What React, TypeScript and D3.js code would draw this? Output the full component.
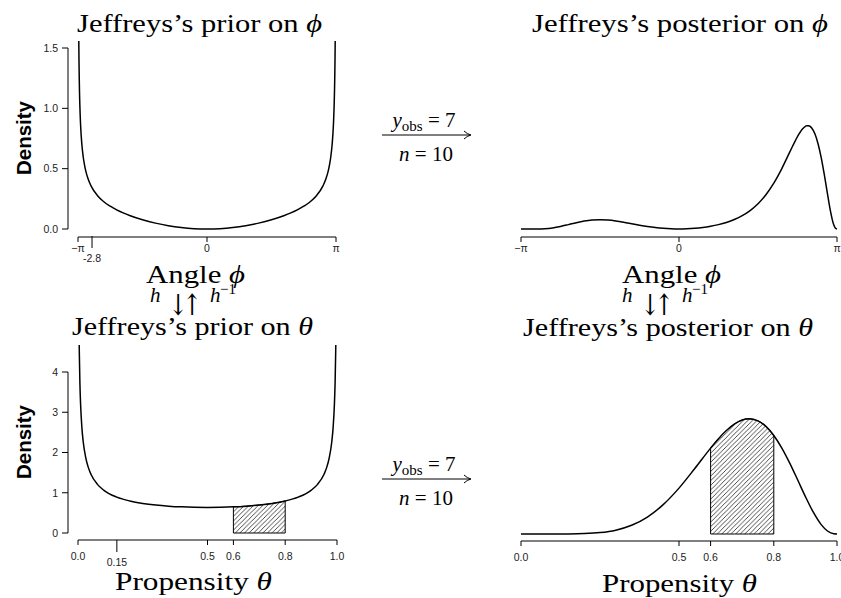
import React from 'react';
import * as d3 from 'd3';

// ---------- data ----------
// Jeffreys's prior on phi; x in units of pi
const phiPriorX = [-0.998, -0.995, -0.99, -0.985, -0.98, -0.97, -0.96, -0.95, -0.94, -0.92, -0.9, -0.85, -0.8, -0.75, -0.7, -0.65, -0.6, -0.5, -0.4, -0.3, -0.2, -0.1, 0, 0.1, 0.2, 0.3, 0.4, 0.5, 0.6, 0.65, 0.7, 0.75, 0.8, 0.85, 0.9, 0.92, 0.94, 0.95, 0.96, 0.97, 0.98, 0.985, 0.99, 0.995, 0.998];
const phiPriorY = [2.771, 1.748, 1.232, 1.002, 0.864, 0.700, 0.601, 0.533, 0.482, 0.410, 0.360, 0.278, 0.226, 0.189, 0.159, 0.134, 0.112, 0.0766, 0.0487, 0.0274, 0.0122, 0.0030, 0, 0.0030, 0.0122, 0.0274, 0.0487, 0.0766, 0.112, 0.134, 0.159, 0.189, 0.226, 0.278, 0.360, 0.410, 0.482, 0.533, 0.601, 0.700, 0.864, 1.002, 1.232, 1.748, 2.771];

// Jeffreys's posterior on phi; x in units of pi
const phiPostX = [-1, -0.95, -0.9, -0.85, -0.8, -0.75, -0.7, -0.65, -0.6, -0.55, -0.5, -0.45, -0.4, -0.35, -0.3, -0.25, -0.2, -0.15, -0.1, -0.05, 0, 0.05, 0.1, 0.15, 0.2, 0.25, 0.3, 0.35, 0.4, 0.45, 0.5, 0.55, 0.6, 0.65, 0.7, 0.75, 0.78, 0.8, 0.81, 0.82, 0.83, 0.84, 0.86, 0.88, 0.9, 0.92, 0.94, 0.95, 0.96, 0.97, 0.98, 0.99, 1];
const phiPostY = [0, 0.0000, 0.0004, 0.0027, 0.0092, 0.0210, 0.0363, 0.0523, 0.0657, 0.0741, 0.0767, 0.0736, 0.0661, 0.0557, 0.0438, 0.0319, 0.0211, 0.0121, 0.0054, 0.0014, 0, 0.0014, 0.0055, 0.0124, 0.0225, 0.0362, 0.0544, 0.0785, 0.1105, 0.1530, 0.2095, 0.2840, 0.3801, 0.4989, 0.6345, 0.7664, 0.8269, 0.8512, 0.8565, 0.8565, 0.8504, 0.8373, 0.7888, 0.7070, 0.5917, 0.4481, 0.2891, 0.2111, 0.1392, 0.0781, 0.0327, 0.0067, 0];

// Jeffreys's prior on theta
const thetaPriorX = [0.001, 0.002, 0.0035, 0.005, 0.0075, 0.01, 0.015, 0.02, 0.03, 0.04, 0.05, 0.075, 0.1, 0.15, 0.2, 0.25, 0.3, 0.35, 0.4, 0.45, 0.5, 0.55, 0.6, 0.65, 0.7, 0.75, 0.8, 0.85, 0.9, 0.925, 0.95, 0.96, 0.97, 0.98, 0.985, 0.99, 0.9925, 0.995, 0.9965, 0.998, 0.999];
const thetaPriorY = [10.07, 7.125, 5.39, 4.513, 3.689, 3.199, 2.619, 2.274, 1.866, 1.624, 1.461, 1.2085, 1.061, 0.8914, 0.7958, 0.7351, 0.6946, 0.6674, 0.6497, 0.6398, 0.6366, 0.6398, 0.6497, 0.6674, 0.6946, 0.7351, 0.7958, 0.8914, 1.061, 1.2085, 1.461, 1.624, 1.866, 2.274, 2.619, 3.199, 3.689, 4.513, 5.39, 7.125, 10.07];

// Jeffreys's posterior on theta
const thetaPostX = [0, 0.05, 0.1, 0.15, 0.2, 0.25, 0.3, 0.35, 0.4, 0.45, 0.5, 0.55, 0.6, 0.625, 0.65, 0.675, 0.7, 0.72, 0.75, 0.775, 0.8, 0.825, 0.85, 0.875, 0.9, 0.925, 0.95, 0.97, 0.99, 1];
const thetaPostY = [0, 0, 0.0001, 0.0017, 0.0096, 0.0347, 0.0955, 0.2162, 0.4215, 0.7293, 1.1397, 1.6270, 2.1341, 2.3681, 2.5713, 2.7307, 2.8316, 2.8611, 2.8101, 2.6727, 2.4476, 2.1408, 1.7681, 1.3533, 0.9303, 0.5415, 0.2337, 0.0746, 0.0055, 0];

// axes / labels
const phiTicks = [-1, 0, 1];
const phiTickLabels = ['−π', '0', 'π'];
const phiMark = -2.8;
const phiMarkLabel = '-2.8';
const phiDensityTicks = [0, 0.5, 1, 1.5];
const thetaTicks = [0, 0.5, 0.6, 0.8, 1];
const thetaMark = 0.15;
const thetaDensityTicks = [0, 1, 2, 3, 4];
const hatchRange = [0.6, 0.8];
const yObs = 7;
const nObs = 10;

const SERIF = "'Liberation Serif', 'DejaVu Serif', 'Times New Roman', serif";
const SANS = "'Liberation Sans', Arial, Helvetica, sans-serif";
const PHI = 'ϕ';
const THETA = 'θ';

const zip = (a: number[], b: number[]) => a.map((v, i) => [v, b[i]] as [number, number]);

export default function App() {
  const xTL = d3.scaleLinear().domain([-1, 1]).range([78, 336]);
  const xTR = d3.scaleLinear().domain([-1, 1]).range([521, 837]);
  const yTop = d3.scaleLinear().domain([0, 1.5]).range([229, 48]);
  const xBL = d3.scaleLinear().domain([0, 1]).range([78, 337]);
  const xBR = d3.scaleLinear().domain([0, 1]).range([521, 837]);
  const yBL = d3.scaleLinear().domain([0, 4]).range([533, 372]);
  const yBR = d3.scaleLinear().domain([0, 4]).range([534, 373]);

  const mkLine = (x: any, y: any) =>
    d3.line<[number, number]>().x(d => x(d[0])).y(d => y(d[1])).curve(d3.curveMonotoneX);
  const mkArea = (x: any, y: any) =>
    d3.area<[number, number]>().x(d => x(d[0])).y0(y(0)).y1(d => y(d[1])).curve(d3.curveMonotoneX);

  const phiPrior = zip(phiPriorX, phiPriorY);
  const phiPost = zip(phiPostX, phiPostY);
  const thPrior = zip(thetaPriorX, thetaPriorY);
  const thPost = zip(thetaPostX, thetaPostY);
  const inHatch = (d: [number, number]) => d[0] >= hatchRange[0] - 1e-9 && d[0] <= hatchRange[1] + 1e-9;

  const f1 = d3.format('.1f');
  const tickCol = '#222';

  const xAxis = (x: any, yAx: number, ticks: number[], labels: string[], labY: number) => (
    <g>
      <line x1={x(ticks[0])} x2={x(ticks[ticks.length - 1])} y1={yAx} y2={yAx} stroke="#000" strokeWidth={1} />
      {ticks.map((t, i) => (
        <g key={i}>
          <line x1={x(t)} x2={x(t)} y1={yAx} y2={yAx + 5} stroke="#000" strokeWidth={1} />
          <text x={x(t)} y={labY} textAnchor="middle" fontFamily={SANS} fontSize={10.5} fill={tickCol}>{labels[i]}</text>
        </g>
      ))}
    </g>
  );
  const yAxis = (y: any, xAx: number, ticks: number[], fmt: (v: number) => string) => (
    <g>
      <line x1={xAx} x2={xAx} y1={y(ticks[0])} y2={y(ticks[ticks.length - 1])} stroke="#000" strokeWidth={1} />
      {ticks.map((t, i) => (
        <g key={i}>
          <line x1={xAx - 6} x2={xAx} y1={y(t)} y2={y(t)} stroke="#000" strokeWidth={1} />
          <text x={xAx - 10} y={y(t) + 3.8} textAnchor="end" fontFamily={SANS} fontSize={10.5} fill={tickCol}>{fmt(t)}</text>
        </g>
      ))}
    </g>
  );

  const title = (x: number, y: number, len: number, main: string, sym: string) => (
    <text x={x} y={y} fontFamily={SERIF} fontSize={25} textLength={len} lengthAdjust="spacingAndGlyphs" fill="#000">
      {main}<tspan fontStyle="italic">{sym}</tspan>
    </text>
  );

  const hArrows = (x0: number, yb: number) => (
    <g fontFamily={SERIF} fill="#000">
      <text x={x0} y={yb} fontSize={21} fontStyle="italic">h</text>
      <text transform={`translate(${x0 + 28},${yb + 13}) scale(1,1.27)`} fontSize={23} textAnchor="middle" fontFamily="'DejaVu Serif', serif" fill="#000">↓</text>
      <text transform={`translate(${x0 + 42},${yb + 13}) scale(1,1.27)`} fontSize={23} textAnchor="middle" fontFamily="'DejaVu Serif', serif" fill="#000">↑</text>
      <text x={x0 + 60} y={yb} fontSize={21} fontStyle="italic">h</text>
      <text x={x0 + 70} y={yb - 8} fontSize={15}>−1</text>
    </g>
  );

  const obsArrow = (yA: number) => (
    <g fill="#000">
      <text x={424} y={yA - 8} textAnchor="middle" fontFamily={SERIF} fontSize={21}>
        <tspan fontStyle="italic">y</tspan>
        <tspan fontSize={15} dy={4}>obs</tspan>
        <tspan dy={-4}>{` = ${yObs}`}</tspan>
      </text>
      <line x1={382} x2={470} y1={yA} y2={yA} stroke="#000" strokeWidth={1} />
      <path d={`M${464},${yA - 4} Q${467},${yA - 1} ${471},${yA} Q${467},${yA + 1} ${464},${yA + 4}`} fill="none" stroke="#000" strokeWidth={1} />
      <text x={426} y={yA + 26} textAnchor="middle" fontFamily={SERIF} fontSize={21}>
        <tspan fontStyle="italic">n</tspan>
        <tspan>{` = ${nObs}`}</tspan>
      </text>
    </g>
  );

  return (
    <svg width={841} height={598} style={{ position: 'absolute', left: 0, top: 0, background: '#fff' }}>
      <defs>
        <pattern id="hatch" patternUnits="userSpaceOnUse" width={4.6} height={4.6}>
          <path d="M-1,1 L1,-1 M0,4.6 L4.6,0 M3.6,5.6 L5.6,3.6" stroke="#111" strokeWidth={0.75} />
        </pattern>
        <clipPath id="cTL"><rect x={68} y={41} width={280} height={196} /></clipPath>
        <clipPath id="cTR"><rect x={505} y={41} width={336} height={196} /></clipPath>
        <clipPath id="cBL"><rect x={68} y={345} width={280} height={195} /></clipPath>
        <clipPath id="cBR"><rect x={505} y={345} width={336} height={195} /></clipPath>
      </defs>
      <rect x={0} y={0} width={841} height={598} fill="#fff" />

      {/* ---- top-left: prior on phi ---- */}
      {title(77, 32, 245, 'Jeffreys’s prior on ', PHI)}
      <path d={mkLine(xTL, yTop)(phiPrior) || ''} fill="none" stroke="#000" strokeWidth={1.5} clipPath="url(#cTL)" />
      {yAxis(yTop, 68, phiDensityTicks, f1)}
      {xAxis(xTL, 237, phiTicks, phiTickLabels, 252)}
      <line x1={xTL(phiMark / Math.PI)} x2={xTL(phiMark / Math.PI)} y1={236} y2={248} stroke="#000" strokeWidth={1} />
      <text x={xTL(phiMark / Math.PI)} y={262} textAnchor="middle" fontFamily={SANS} fontSize={10.5} fill={tickCol}>{phiMarkLabel}</text>
      <text transform="translate(31,138) rotate(-90)" textAnchor="middle" fontFamily={SANS} fontWeight="bold" fontSize={20.5} fill="#000">Density</text>
      <text x={146} y={283} fontFamily={SERIF} fontSize={25} textLength={99} lengthAdjust="spacingAndGlyphs">Angle <tspan fontStyle="italic">{PHI}</tspan></text>
      {hArrows(150, 302)}

      {/* ---- top-right: posterior on phi ---- */}
      {title(532, 32, 296, 'Jeffreys’s posterior on ', PHI)}
      <path d={mkLine(xTR, yTop)(phiPost) || ''} fill="none" stroke="#000" strokeWidth={1.5} clipPath="url(#cTR)" />
      {xAxis(xTR, 237, phiTicks, phiTickLabels, 252)}
      <text x={622} y={283} fontFamily={SERIF} fontSize={25} textLength={99} lengthAdjust="spacingAndGlyphs">Angle <tspan fontStyle="italic">{PHI}</tspan></text>
      {hArrows(622, 302)}

      {obsArrow(135)}

      {/* ---- bottom-left: prior on theta ---- */}
      {title(72, 335, 241, 'Jeffreys’s prior on ', THETA)}
      <path d={mkArea(xBL, yBL)(thPrior.filter(inHatch)) || ''} fill="url(#hatch)" stroke="#000" strokeWidth={1} />
      <path d={mkLine(xBL, yBL)(thPrior) || ''} fill="none" stroke="#000" strokeWidth={1.5} clipPath="url(#cBL)" />
      {yAxis(yBL, 68, thetaDensityTicks, d3.format('d'))}
      {xAxis(xBL, 540, thetaTicks, thetaTicks.map(f1), 560)}
      <line x1={xBL(thetaMark)} x2={xBL(thetaMark)} y1={540} y2={552} stroke="#000" strokeWidth={1} />
      <text x={xBL(thetaMark)} y={566} textAnchor="middle" fontFamily={SANS} fontSize={10.5} fill={tickCol}>{String(thetaMark)}</text>
      <text transform="translate(31,442) rotate(-90)" textAnchor="middle" fontFamily={SANS} fontWeight="bold" fontSize={20.5} fill="#000">Density</text>
      <text x={115} y={590} fontFamily={SERIF} fontSize={25} textLength={157} lengthAdjust="spacingAndGlyphs">Propensity <tspan fontStyle="italic">{THETA}</tspan></text>

      {/* ---- bottom-right: posterior on theta ---- */}
      {title(523, 336, 290, 'Jeffreys’s posterior on ', THETA)}
      <path d={mkArea(xBR, yBR)(thPost.filter(inHatch)) || ''} fill="url(#hatch)" stroke="#000" strokeWidth={1} />
      <path d={mkLine(xBR, yBR)(thPost) || ''} fill="none" stroke="#000" strokeWidth={1.5} clipPath="url(#cBR)" />
      {xAxis(xBR, 541, thetaTicks, thetaTicks.map(f1), 561)}
      <text x={602} y={592} fontFamily={SERIF} fontSize={25} textLength={155} lengthAdjust="spacingAndGlyphs">Propensity <tspan fontStyle="italic">{THETA}</tspan></text>

      {obsArrow(479)}
    </svg>
  );
}
